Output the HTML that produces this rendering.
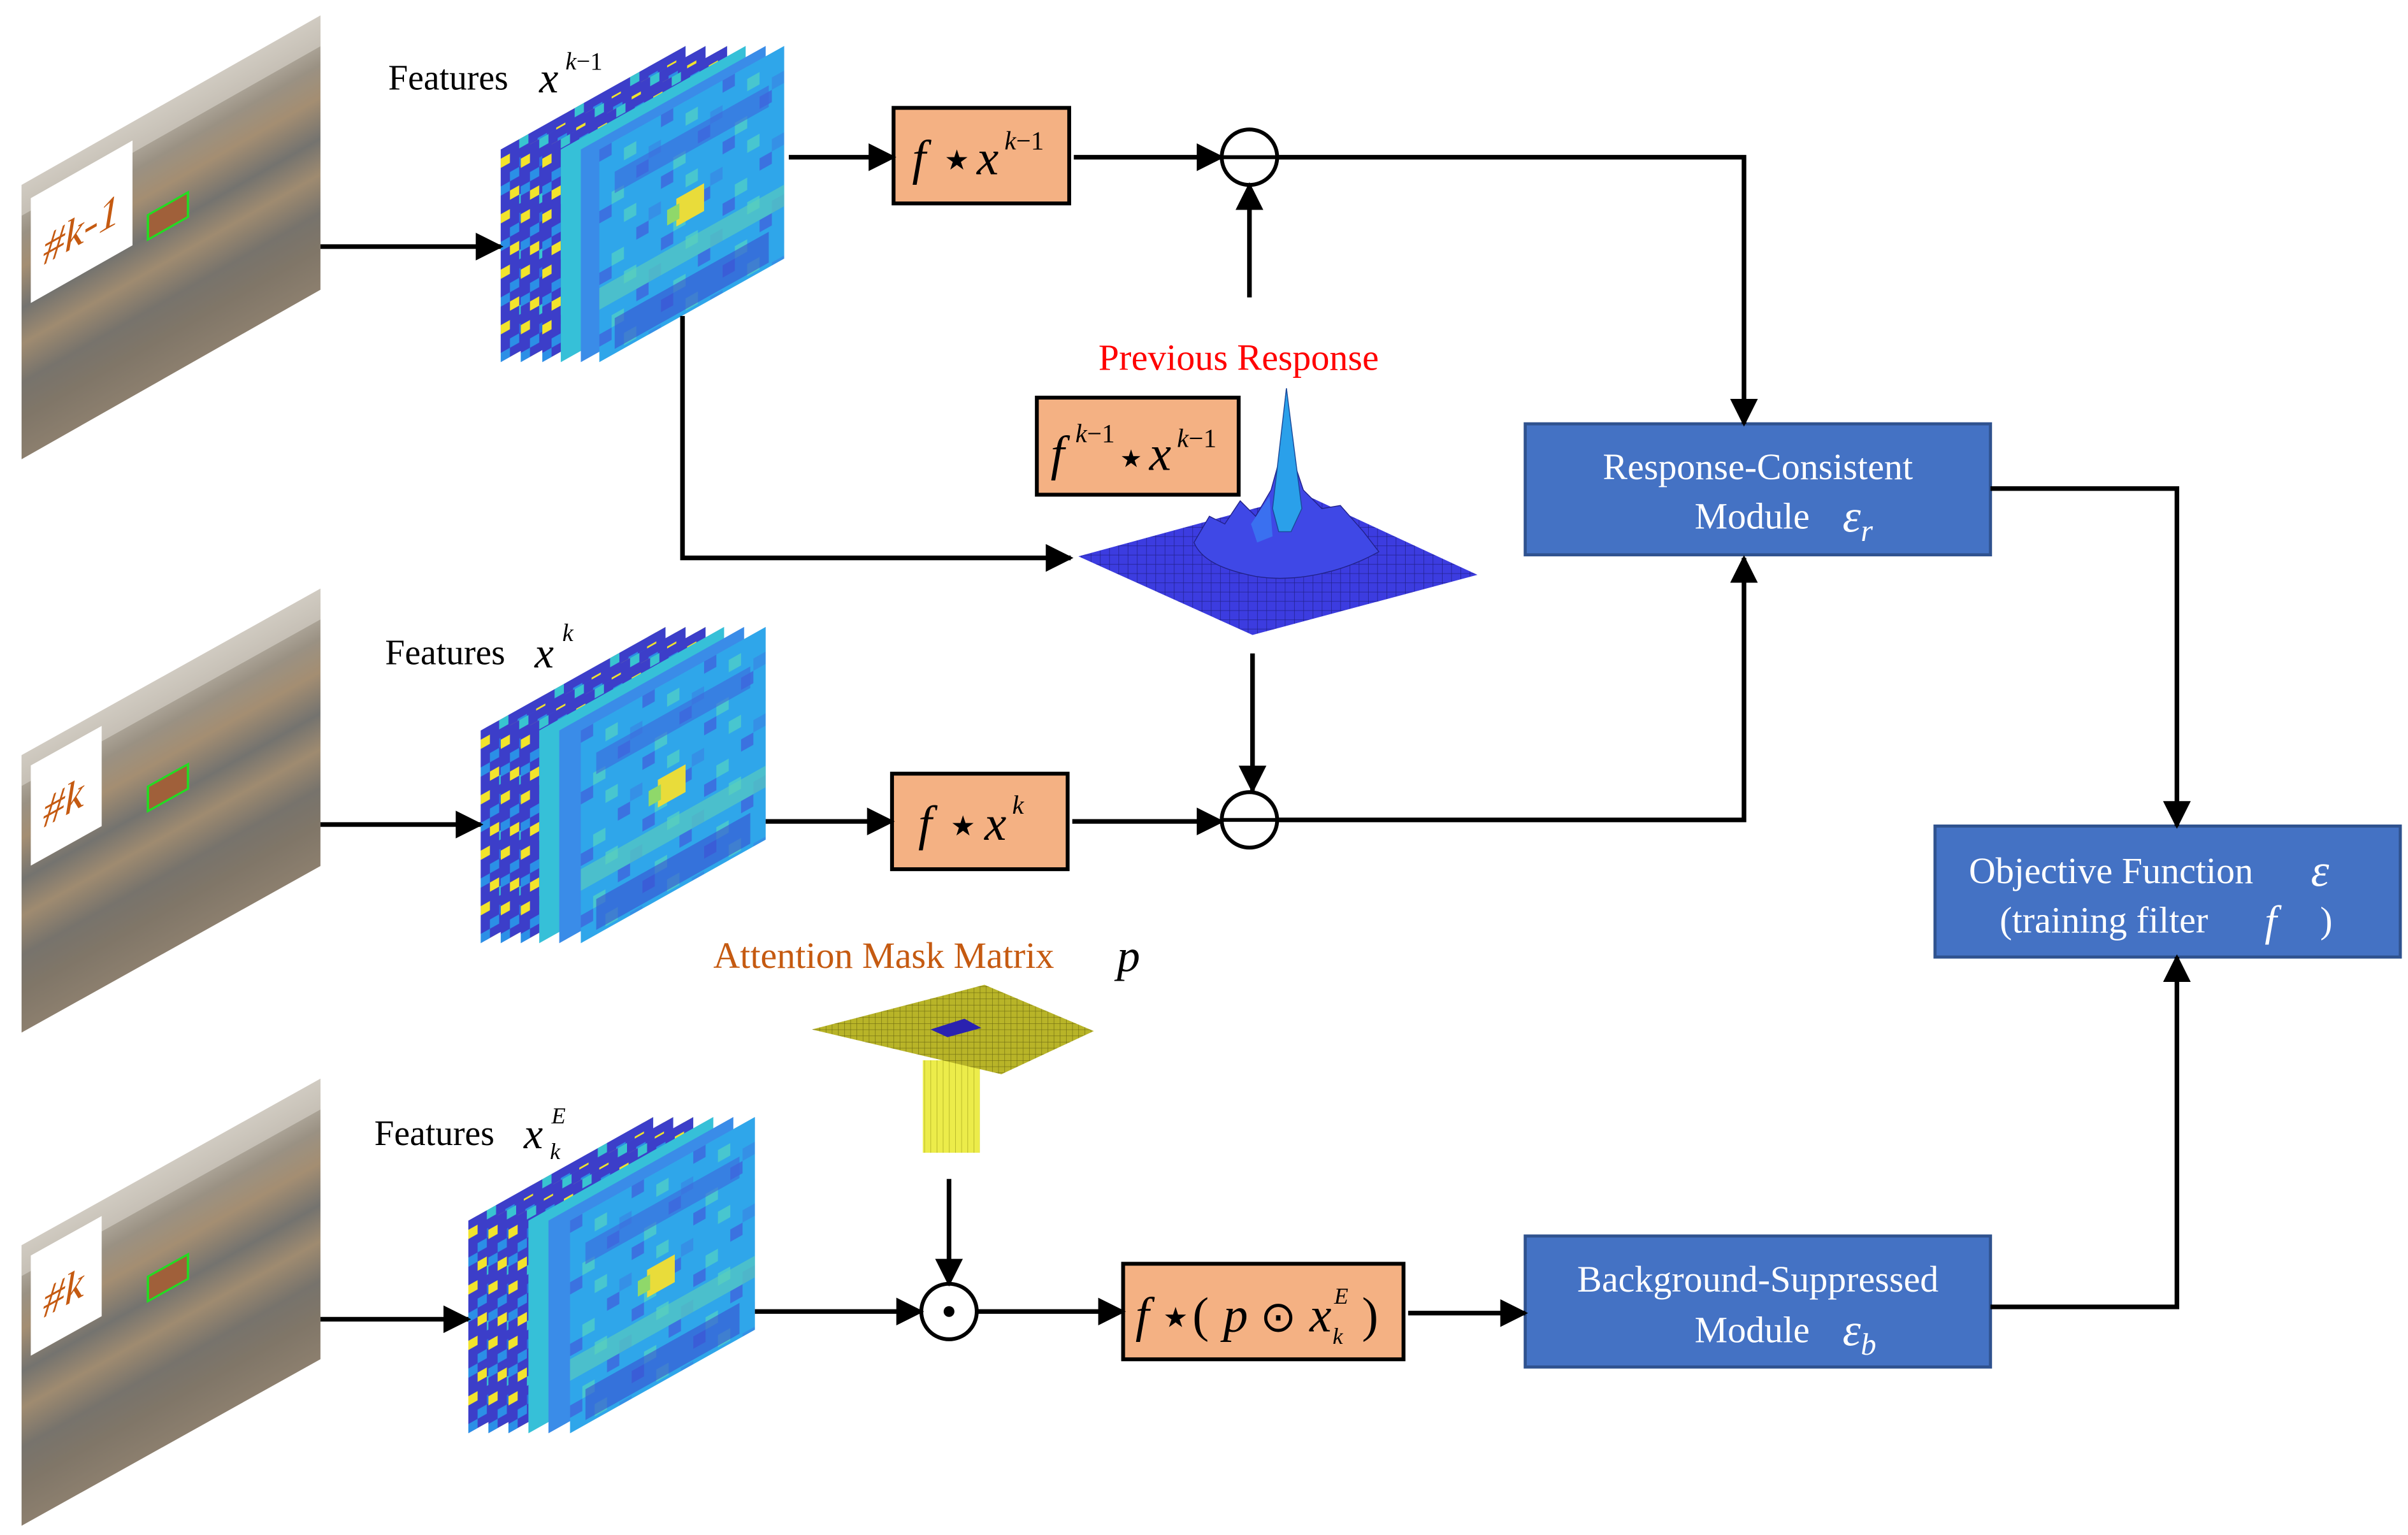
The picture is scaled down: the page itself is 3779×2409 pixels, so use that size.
<!DOCTYPE html>
<html><head><meta charset="utf-8"><style>
html,body{margin:0;padding:0;background:#fff;}
svg{display:block;}
text{font-family:"Liberation Serif",serif;}
.it{font-style:italic;}
</style></head><body>
<svg width="3779" height="2409" viewBox="0 0 1563 996" preserveAspectRatio="none" xmlns="http://www.w3.org/2000/svg">
<defs>
<marker id="ah" viewBox="0 0 10 10" refX="9" refY="5" markerWidth="6" markerHeight="6" orient="auto" markerUnits="strokeWidth">
<path d="M0,0 L10,5 L0,10 z" fill="#000"/></marker>
<linearGradient id="img" x1="0" y1="0" x2="0" y2="1">
<stop offset="0" stop-color="#c3bdb2"/><stop offset="0.18" stop-color="#9a9183"/>
<stop offset="0.3" stop-color="#a48e72"/><stop offset="0.45" stop-color="#74736f"/>
<stop offset="0.58" stop-color="#9f8b70"/><stop offset="0.72" stop-color="#77736c"/>
<stop offset="0.85" stop-color="#807668"/><stop offset="1" stop-color="#8c7f6e"/>
</linearGradient>
<pattern id="pb" width="36" height="36" patternUnits="userSpaceOnUse">
<rect width="36" height="36" fill="#3c3ec9"/>
<rect x="0" y="6" width="6" height="6" fill="#f2e42c"/>
<rect x="6" y="18" width="6" height="6" fill="#2b8fe6"/>
<rect x="12" y="0" width="6" height="6" fill="#38c4d0"/>
<rect x="0" y="24" width="6" height="6" fill="#2b8fe6"/>
<rect x="6" y="30" width="6" height="6" fill="#f2e42c"/>
<rect x="12" y="12" width="6" height="6" fill="#2b70e0"/>
<rect x="24" y="6" width="6" height="6" fill="#2b8fe6"/>
<rect x="30" y="24" width="6" height="6" fill="#38c4d0"/>
<rect x="18" y="30" width="6" height="6" fill="#2b70e0"/>
</pattern>
<pattern id="pf" width="40" height="40" patternUnits="userSpaceOnUse">
<rect width="40" height="40" fill="#2fa6ea"/>
<rect x="0" y="0" width="8" height="8" fill="#3b72e0"/>
<rect x="16" y="8" width="8" height="8" fill="#48c6cf"/>
<rect x="24" y="24" width="8" height="8" fill="#3b72e0"/>
<rect x="8" y="32" width="8" height="8" fill="#48c6cf"/>
<rect x="32" y="16" width="8" height="8" fill="#3590e6"/>
</pattern>
<pattern id="grid" width="6" height="6" patternUnits="userSpaceOnUse">
<rect width="6" height="6" fill="#3c3ce0"/><path d="M0,0 H6 M0,0 V6" stroke="#20208a" stroke-width="0.6"/>
</pattern>
<pattern id="ygrid" width="4" height="4" patternUnits="userSpaceOnUse">
<rect width="4" height="4" fill="#b8b428"/><path d="M0,0 H4 M0,0 V4" stroke="#6c6a10" stroke-width="0.5"/>
</pattern>
<pattern id="ycol" width="4" height="4" patternUnits="userSpaceOnUse">
<rect width="4" height="4" fill="#ecec4a"/><path d="M0,0 V4" stroke="#a8a820" stroke-width="0.6"/>
</pattern>
</defs>

<g transform="matrix(1,-0.567,0,1,14,120)">
<rect width="194" height="178" fill="url(#img)"/>
<rect x="0" y="0" width="194" height="20" fill="#d8d4cc" opacity="0.6"/>
<rect x="6" y="12" width="66" height="68" fill="#fff"/>
<text x="14" y="60" class="it" font-size="28" fill="#c55a11">#k-1</text>
<rect x="82" y="66" width="26" height="16" fill="#a0603a" stroke="#22dd22" stroke-width="1.5"/>
</g>
<g transform="matrix(1,-0.557,0,1,14,490)">
<rect width="194" height="180" fill="url(#img)"/>
<rect x="0" y="0" width="194" height="20" fill="#d8d4cc" opacity="0.6"/>
<rect x="6" y="10" width="46" height="65" fill="#fff"/>
<text x="14" y="55" class="it" font-size="28" fill="#c55a11">#k</text>
<rect x="82" y="66" width="26" height="16" fill="#a0603a" stroke="#22dd22" stroke-width="1.5"/>
</g>
<g transform="matrix(1,-0.557,0,1,14,808)">
<rect width="194" height="182" fill="url(#img)"/>
<rect x="0" y="0" width="194" height="20" fill="#d8d4cc" opacity="0.6"/>
<rect x="6" y="10" width="46" height="65" fill="#fff"/>
<text x="14" y="55" class="it" font-size="28" fill="#c55a11">#k</text>
<rect x="82" y="66" width="26" height="16" fill="#a0603a" stroke="#22dd22" stroke-width="1.5"/>
</g>

<g>
<g transform="matrix(1,-0.56,0,1,325,97)"><rect width="120" height="138" fill="url(#pb)"/></g>
<g transform="matrix(1,-0.56,0,1,338,97)"><rect width="120" height="138" fill="url(#pb)"/></g>
<g transform="matrix(1,-0.56,0,1,352,97)"><rect width="120" height="138" fill="url(#pb)"/></g>
<g transform="matrix(1,-0.56,0,1,364,97)"><rect width="120" height="138" fill="#36c0d8"/></g>
<g transform="matrix(1,-0.56,0,1,377,97)"><rect width="120" height="138" fill="#3a8ce8"/></g>
<g transform="matrix(1,-0.56,0,1,389,97)"><rect width="120" height="138" fill="url(#pf)"/>
<rect x="10" y="20" width="100" height="14" fill="#3d68dc" opacity="0.6"/>
<rect x="50" y="60" width="18" height="18" fill="#e9dc3a"/><rect x="44" y="64" width="8" height="10" fill="#8fd86a"/>
<rect x="0" y="90" width="120" height="14" fill="#5fd0b8" opacity="0.6"/>
<rect x="10" y="115" width="100" height="20" fill="#3a50d0" opacity="0.6"/></g>
</g>
<g>
<g transform="matrix(1,-0.56,0,1,312,474)"><rect width="120" height="138" fill="url(#pb)"/></g>
<g transform="matrix(1,-0.56,0,1,325,474)"><rect width="120" height="138" fill="url(#pb)"/></g>
<g transform="matrix(1,-0.56,0,1,338,474)"><rect width="120" height="138" fill="url(#pb)"/></g>
<g transform="matrix(1,-0.56,0,1,350,474)"><rect width="120" height="138" fill="#36c0d8"/></g>
<g transform="matrix(1,-0.56,0,1,363,474)"><rect width="120" height="138" fill="#3a8ce8"/></g>
<g transform="matrix(1,-0.56,0,1,377,474)"><rect width="120" height="138" fill="url(#pf)"/>
<rect x="10" y="20" width="100" height="14" fill="#3d68dc" opacity="0.6"/>
<rect x="50" y="60" width="18" height="18" fill="#e9dc3a"/><rect x="44" y="64" width="8" height="10" fill="#8fd86a"/>
<rect x="0" y="90" width="120" height="14" fill="#5fd0b8" opacity="0.6"/>
<rect x="10" y="115" width="100" height="20" fill="#3a50d0" opacity="0.6"/></g>
</g>
<g>
<g transform="matrix(1,-0.56,0,1,304,792)"><rect width="120" height="138" fill="url(#pb)"/></g>
<g transform="matrix(1,-0.56,0,1,317,792)"><rect width="120" height="138" fill="url(#pb)"/></g>
<g transform="matrix(1,-0.56,0,1,330,792)"><rect width="120" height="138" fill="url(#pb)"/></g>
<g transform="matrix(1,-0.56,0,1,343,792)"><rect width="120" height="138" fill="#36c0d8"/></g>
<g transform="matrix(1,-0.56,0,1,356,792)"><rect width="120" height="138" fill="#3a8ce8"/></g>
<g transform="matrix(1,-0.56,0,1,370,792)"><rect width="120" height="138" fill="url(#pf)"/>
<rect x="10" y="20" width="100" height="14" fill="#3d68dc" opacity="0.6"/>
<rect x="50" y="60" width="18" height="18" fill="#e9dc3a"/><rect x="44" y="64" width="8" height="10" fill="#8fd86a"/>
<rect x="0" y="90" width="120" height="14" fill="#5fd0b8" opacity="0.6"/>
<rect x="10" y="115" width="100" height="20" fill="#3a50d0" opacity="0.6"/></g>
</g>

<text x="252" y="58" font-size="23">Features</text>
<text x="350" y="60" class="it" font-size="28">x</text>
<text x="367" y="45" font-size="16"><tspan class="it">k</tspan>−1</text>
<text x="250" y="431" font-size="23">Features</text>
<text x="347" y="433" class="it" font-size="28">x</text>
<text x="365" y="416" class="it" font-size="16">k</text>
<text x="243" y="743" font-size="23">Features</text>
<text x="340" y="745" class="it" font-size="28">x</text>
<text x="358" y="729" class="it" font-size="15">E</text>
<text x="357" y="752" class="it" font-size="15">k</text>

<polygon points="700,361 847,321 959,373 813,412" fill="url(#grid)"/>
<path d="M775,352 L785,335 L795,340 L805,325 L815,335 L825,318 L830,300 L835,252 L840,300 L846,318 L858,330 L870,328 L885,345 L895,358 C870,372 840,378 815,374 C795,370 780,364 775,352 z" fill="#3f48e6" stroke="#22228a" stroke-width="0.6"/>
<polygon points="826,330 835,252 845,330 838,345 830,345" fill="#2aa0ea" stroke="#1a4a9a" stroke-width="0.6"/>
<polygon points="812,340 824,322 826,348 816,352" fill="#3a70f0"/>

<polygon points="599,688 636,688 636,748 599,748" fill="url(#ycol)"/>
<polygon points="527,668 639,639 710,669 650,697" fill="url(#ygrid)"/>
<polygon points="604,668 626,661 637,667 615,673" fill="#2a22b0"/>

<g fill="#f4b183" stroke="#000" stroke-width="2.5">
<rect x="580" y="70" width="114" height="62"/>
<rect x="673" y="258" width="131" height="63"/>
<rect x="579" y="502" width="114" height="62"/>
<rect x="729" y="820" width="182" height="62"/>
</g>
<text x="592" y="113" class="it" font-size="32">f</text>
<text x="613" y="110" font-size="18">★</text>
<text x="634" y="113" class="it" font-size="32">x</text>
<text x="652" y="97" font-size="17"><tspan class="it">k</tspan>−1</text>
<text x="682" y="305" class="it" font-size="32">f</text>
<text x="698" y="287" font-size="17"><tspan class="it">k</tspan>−1</text>
<text x="727" y="303" font-size="16">★</text>
<text x="746" y="305" class="it" font-size="32">x</text>
<text x="764" y="290" font-size="17"><tspan class="it">k</tspan>−1</text>
<text x="596" y="545" class="it" font-size="32">f</text>
<text x="617" y="542" font-size="18">★</text>
<text x="639" y="545" class="it" font-size="32">x</text>
<text x="657" y="528" class="it" font-size="17">k</text>
<text x="737" y="864" class="it" font-size="32">f</text>
<text x="755" y="861" font-size="18">★</text>
<text x="774" y="864" font-size="32">(</text>
<text x="794" y="864" class="it" font-size="32">p</text>
<text x="818" y="864" font-size="28">⊙</text>
<text x="850" y="864" class="it" font-size="32">x</text>
<text x="866" y="846" class="it" font-size="15">E</text>
<text x="865" y="872" class="it" font-size="15">k</text>
<text x="884" y="864" font-size="32">)</text>

<g fill="#4472c4" stroke="#2f528f" stroke-width="2">
<rect x="990" y="275" width="302" height="85"/>
<rect x="990" y="802" width="302" height="85"/>
<rect x="1256" y="536" width="302" height="85"/>
</g>
<g fill="#fff" font-size="24">
<text x="1141" y="311" text-anchor="middle">Response-Consistent</text>
<text x="1100" y="343">Module</text>
<text x="1196" y="345" class="it" font-size="30">ε<tspan font-size="20" dy="6">r</tspan></text>
<text x="1141" y="838" text-anchor="middle">Background-Suppressed</text>
<text x="1100" y="871">Module</text>
<text x="1196" y="873" class="it" font-size="30">ε<tspan font-size="20" dy="6">b</tspan></text>
<text x="1278" y="573">Objective Function</text>
<text x="1500" y="575" class="it" font-size="30">ε</text>
<text x="1298" y="605">(training filter</text>
<text x="1470" y="607" class="it" font-size="28">f</text>
<text x="1506" y="605">)</text>
</g>

<text x="713" y="240" font-size="24" fill="#ff0000">Previous Response</text>
<text x="463" y="628" font-size="24" fill="#c55a11">Attention Mask Matrix</text>
<text x="725" y="630" class="it" font-size="30">p</text>

<g fill="#fff" stroke="#000" stroke-width="2.5">
<circle cx="811" cy="102" r="18"/>
<circle cx="811" cy="532" r="18"/>
<circle cx="616" cy="851" r="18"/>
</g>
<path d="M793,102 H829 M793,532 H829" stroke="#000" stroke-width="2.5"/>
<circle cx="616" cy="851" r="3.5" fill="#000"/>

<g stroke="#000" stroke-width="3" fill="none" marker-end="url(#ah)">
<path d="M208,160 H325"/>
<path d="M512,102 H580"/>
<path d="M697,102 H793"/>
<path d="M811,193 V120"/>
<path d="M829,102 H1132 V275"/>
<path d="M443,205 V362 H695"/>
<path d="M813,424 V513"/>
<path d="M208,535 H312"/>
<path d="M497,533 H579"/>
<path d="M696,533 H793"/>
<path d="M829,532 H1132 V362"/>
<path d="M1292,317 H1413 V536"/>
<path d="M208,856 H304"/>
<path d="M490,851 H598"/>
<path d="M616,765 V833"/>
<path d="M634,851 H729"/>
<path d="M914,852 H990"/>
<path d="M1292,848 H1413 V621"/>
</g>
</svg>
</body></html>
